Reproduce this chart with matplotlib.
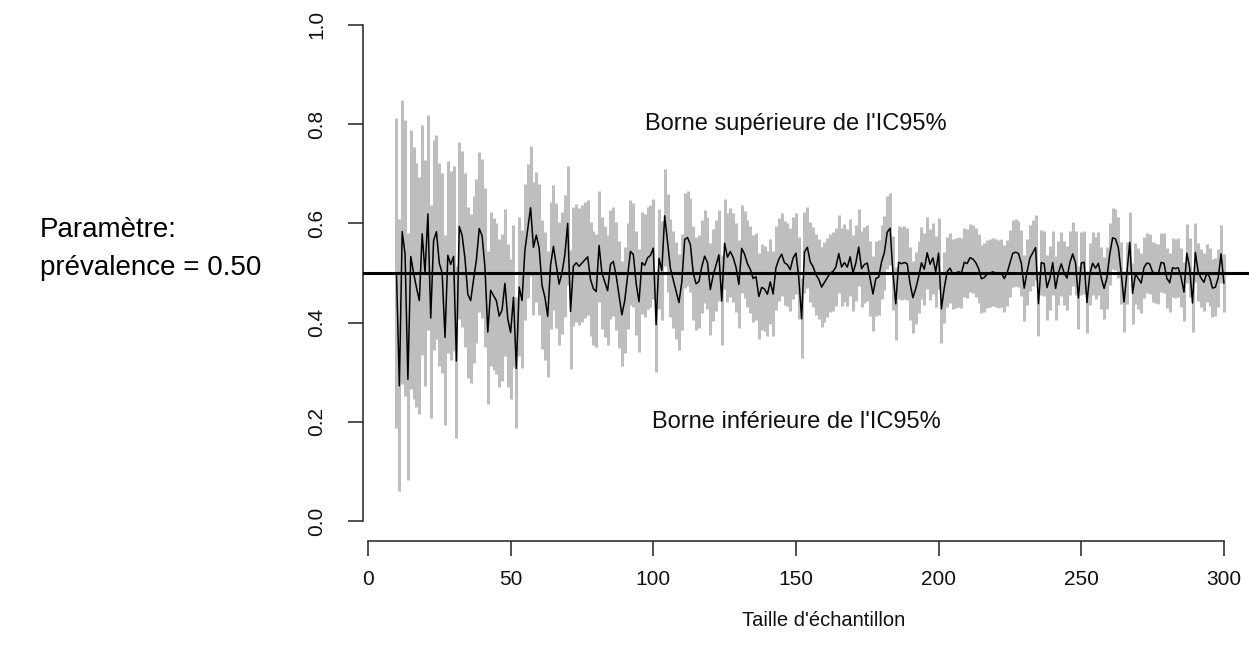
import math
import numpy as np
import matplotlib
matplotlib.use("Agg")
import matplotlib.pyplot as plt

# ---------------- data ----------------
sample_sizes = list(range(10, 301))
estimates = [
    0.50, 0.27, 0.58, 0.54, 0.29, 0.53, 0.50, 0.47, 0.44, 0.58,   # 10-19
    0.50, 0.62, 0.41, 0.57, 0.58, 0.52, 0.50, 0.37, 0.54, 0.52,   # 20-29
    0.53, 0.32, 0.59, 0.58, 0.53, 0.46, 0.44, 0.49, 0.53, 0.59,   # 30-39
    0.57, 0.51, 0.37, 0.47, 0.46, 0.44, 0.42, 0.43, 0.47, 0.41,   # 40-49
    0.38, 0.45, 0.31, 0.47, 0.45, 0.55, 0.59, 0.63, 0.56, 0.58,   # 50-59
    0.55, 0.48, 0.45, 0.41, 0.52, 0.55, 0.52, 0.48, 0.50, 0.53,   # 60-69
    0.60, 0.42, 0.52, 0.52, 0.52, 0.52, 0.52, 0.53, 0.49, 0.47,   # 70-79
    0.46, 0.55, 0.50, 0.48, 0.47, 0.52, 0.52, 0.49, 0.45, 0.42,   # 80-89
    0.44, 0.49, 0.54, 0.54, 0.48, 0.44, 0.52, 0.52, 0.53, 0.54,   # 90-99
    0.55, 0.40, 0.53, 0.50, 0.62, 0.56, 0.51, 0.49, 0.46, 0.44,   # 100-109
    0.48, 0.57, 0.57, 0.56, 0.50, 0.48, 0.48, 0.51, 0.53, 0.52,   # 110-119
    0.47, 0.50, 0.52, 0.54, 0.44, 0.56, 0.53, 0.54, 0.53, 0.51,   # 120-129
    0.48, 0.55, 0.54, 0.52, 0.51, 0.49, 0.49, 0.45, 0.47, 0.47,   # 130-139
    0.46, 0.48, 0.46, 0.51, 0.53, 0.54, 0.52, 0.52, 0.51, 0.53,   # 140-149
    0.54, 0.49, 0.41, 0.54, 0.55, 0.52, 0.51, 0.50, 0.49, 0.47,   # 150-159
    0.48, 0.49, 0.50, 0.50, 0.51, 0.54, 0.51, 0.52, 0.51, 0.53,   # 160-169
    0.50, 0.52, 0.55, 0.51, 0.52, 0.52, 0.49, 0.46, 0.49, 0.49,   # 170-179
    0.52, 0.54, 0.58, 0.59, 0.50, 0.44, 0.52, 0.52, 0.52, 0.52,   # 180-189
    0.48, 0.45, 0.47, 0.49, 0.52, 0.51, 0.54, 0.52, 0.53, 0.50,   # 190-199
    0.54, 0.43, 0.47, 0.50, 0.51, 0.50, 0.50, 0.50, 0.50, 0.52,   # 200-209
    0.52, 0.53, 0.53, 0.52, 0.51, 0.49, 0.49, 0.50, 0.50, 0.50,   # 210-219
    0.50, 0.50, 0.50, 0.49, 0.50, 0.52, 0.54, 0.54, 0.54, 0.52,   # 220-229
    0.47, 0.50, 0.53, 0.54, 0.55, 0.44, 0.52, 0.52, 0.47, 0.49,   # 230-239
    0.52, 0.47, 0.50, 0.52, 0.50, 0.49, 0.52, 0.54, 0.52, 0.45,   # 240-249
    0.52, 0.52, 0.44, 0.50, 0.52, 0.51, 0.52, 0.49, 0.47, 0.49,   # 250-259
    0.54, 0.57, 0.57, 0.55, 0.50, 0.44, 0.50, 0.56, 0.46, 0.50,   # 260-269
    0.49, 0.48, 0.51, 0.52, 0.52, 0.50, 0.50, 0.50, 0.52, 0.52,   # 270-279
    0.49, 0.48, 0.51, 0.51, 0.51, 0.49, 0.46, 0.54, 0.51, 0.44,   # 280-289
    0.54, 0.50, 0.49, 0.48, 0.50, 0.49, 0.47, 0.47, 0.49, 0.54,   # 290-299
    0.48,                                                         # 300
]
true_prevalence = 0.50
x_ticks = [0, 50, 100, 150, 200, 250, 300]
y_ticks = [0.0, 0.2, 0.4, 0.6, 0.8, 1.0]
y_tick_labels = ["0.0", "0.2", "0.4", "0.6", "0.8", "1.0"]

# ---------------- exact (Clopper-Pearson) 95% CI of each estimate ----------------
def binom_cdf(k, n, p):
    i = np.arange(k + 1)
    logc = np.array([math.lgamma(n + 1) - math.lgamma(j + 1) - math.lgamma(n - j + 1) for j in i])
    if p <= 0:
        return 1.0
    if p >= 1:
        return 1.0 if k >= n else 0.0
    return float(np.exp(logc + i * math.log(p) + (n - i) * math.log(1 - p)).sum())

def bisect(f, lo=0.0, hi=1.0, it=45):
    for _ in range(it):
        mid = 0.5 * (lo + hi)
        if f(mid) < 0:
            lo = mid
        else:
            hi = mid
    return 0.5 * (lo + hi)

lower, upper, est_k = [], [], []
for n, e in zip(sample_sizes, estimates):
    k = int(round(e * n))
    est_k.append(k / n)
    if k == 0:
        lo = 0.0
    else:
        lo = bisect(lambda p: (1 - binom_cdf(k - 1, n, p)) - 0.025)
    if k == n:
        hi = 1.0
    else:
        hi = bisect(lambda p: 0.025 - binom_cdf(k, n, p))
    lower.append(lo)
    upper.append(hi)

# ---------------- figure ----------------
plt.rcParams["font.family"] = ["Liberation Sans", "DejaVu Sans"]
W, H = 1249, 660
fig = plt.figure(figsize=(W / 100, H / 100), dpi=100)
ax_left, ax_right = 363.4 / W, 1257.0 / W
ax_bottom, ax_top = 1 - 541.0 / H, 1 - 5.0 / H
ax = fig.add_axes([ax_left, ax_bottom, ax_right - ax_left, ax_top - ax_bottom])
ax.set_xlim(10 - 0.04 * 290, 300 + 0.04 * 290)
ax.set_ylim(-0.04, 1.04)

ax.vlines(sample_sizes, lower, upper, colors="#BEBEBE", linewidth=2.2, zorder=1)
ax.plot(sample_sizes, est_k, color="black", linewidth=1.1, zorder=2)
ax.axhline(true_prevalence, color="black", linewidth=2.2, zorder=3)

for s in ["top", "right"]:
    ax.spines[s].set_visible(False)
ax.spines["left"].set_bounds(0, 1)
ax.spines["bottom"].set_bounds(0, 300)
ax.spines["left"].set_linewidth(1.1)
ax.spines["bottom"].set_linewidth(1.1)
ax.spines["left"].set_color("#222222")
ax.spines["bottom"].set_color("#222222")
ax.set_xticks(x_ticks)
ax.set_xticklabels([str(t) for t in x_ticks])
ax.set_yticks(y_ticks)
ax.set_yticklabels(y_tick_labels, rotation=90, va="center")
ax.tick_params(axis="both", length=11, width=1.1, color="#222222", labelsize=15, labelcolor="#111111")
ax.tick_params(axis="y", pad=16)
ax.tick_params(axis="x", pad=10)

ax.text(150, 0.8, "Borne supérieure de l'IC95%", ha="center", va="center", fontsize=17, color="#111111")
ax.text(150, 0.2, "Borne inférieure de l'IC95%", ha="center", va="center", fontsize=17, color="#111111")

fig.text(824 / W, 1 - 620 / H, "Taille d'échantillon", ha="center", va="center", fontsize=14.5, color="#111111")
fig.text(40 / W, 1 - 230 / H, "Paramètre:", ha="left", va="center", fontsize=20, color="black")
fig.text(40 / W, 1 - 268 / H, "prévalence = 0.50", ha="left", va="center", fontsize=20, color="black")

fig.savefig("out.png", dpi=100)
